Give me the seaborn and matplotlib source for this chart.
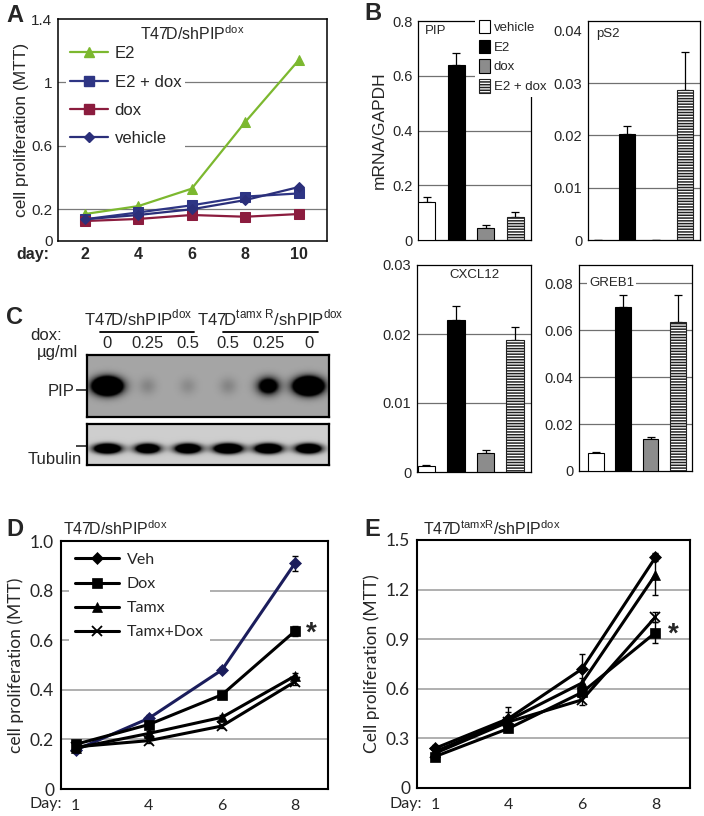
import numpy as np
import pandas as pd
import matplotlib
matplotlib.use("Agg")
import matplotlib.pyplot as plt
import seaborn as sns
from matplotlib.patches import Patch
from matplotlib.lines import Line2D

# ---------------- data ----------------
# Panel A
a_days = ["2", "4", "6", "8", "10"]
a_e2 = [0.17, 0.22, 0.33, 0.75, 1.14]
a_e2dox = [0.137, 0.18, 0.225, 0.28, 0.30]
a_dox = [0.126, 0.139, 0.164, 0.153, 0.17]
a_vehicle = [0.137, 0.164, 0.20, 0.258, 0.34]

# Panel B
b_groups = ["vehicle", "E2", "dox", "E2 + dox"]
b_pip = [0.138, 0.64, 0.043, 0.085]
b_pip_err = [0.018, 0.043, 0.011, 0.016]
b_ps2 = [0.0, 0.0203, 0.0, 0.0287]
b_ps2_err = [0.0, 0.0016, 0.0, 0.0072]
b_cxcl12 = [0.0008, 0.0221, 0.0027, 0.0192]
b_cxcl12_err = [0.00024, 0.0020, 0.0005, 0.0018]
b_greb1 = [0.0075, 0.0699, 0.0135, 0.0633]
b_greb1_err = [0.0007, 0.0050, 0.0011, 0.0116]

# Panel C (western blot band intensities)
c_lanes = ["0", "0.25", "0.5", "0.5", "0.25", "0"]
c_pip = [1.0, 0.05, 0.04, 0.05, 0.45, 1.0]
c_tubulin = [0.95, 0.85, 0.90, 1.0, 0.95, 0.90]

# Panel D
d_days = ["1", "4", "6", "8"]
d_veh = [0.157, 0.285, 0.48, 0.911]
d_veh_err = [0.01, 0.015, 0.01, 0.03]
d_dox = [0.18, 0.26, 0.38, 0.637]
d_dox_err = [0.01, 0.01, 0.012, 0.02]
d_tamx = [0.165, 0.224, 0.289, 0.456]
d_tamx_err = [0.01, 0.01, 0.01, 0.012]
d_tamxdox = [0.17, 0.195, 0.254, 0.433]
d_tamxdox_err = [0.01, 0.01, 0.01, 0.012]

# Panel E
e_days = ["1", "4", "6", "8"]
e_veh = [0.24, 0.42, 0.72, 1.395]
e_veh_err = [0.02, 0.07, 0.09, 0.025]
e_dox = [0.19, 0.36, 0.578, 0.94]
e_dox_err = [0.02, 0.02, 0.02, 0.065]
e_tamx = [0.22, 0.41, 0.635, 1.29]
e_tamx_err = [0.02, 0.05, 0.03, 0.125]
e_tamxdox = [0.21, 0.40, 0.533, 1.034]
e_tamxdox_err = [0.02, 0.03, 0.03, 0.03]

# ---------------- style ----------------
sns.set_style("white")
plt.rcParams["font.family"] = ["Liberation Sans", "DejaVu Sans"]
plt.rcParams["mathtext.fontset"] = "custom"
plt.rcParams["mathtext.rm"] = "Liberation Sans"
plt.rcParams["hatch.linewidth"] = 1.1

W, H = 704, 816
fig = plt.figure(figsize=(W / 100, H / 100), dpi=100)


def rect(l, t, r, b):
    return [l / W, 1 - b / H, (r - l) / W, (b - t) / H]


def fx(x):
    return x / W


def fy(y):
    return 1 - y / H


SUP = lambda s: r"$^{\mathregular{" + s + "}}$"
LATO = ["Lato", "DejaVu Sans"]

# ---------------- Panel A ----------------
axA = fig.add_axes(rect(58, 19, 327, 241))
posA = np.arange(len(a_days))
a_series = [("E2", a_e2, "#7cb82f", "^", 7.5),
            ("E2 + dox", a_e2dox, "#2e3584", "s", 6.5),
            ("dox", a_dox, "#8b1c3e", "s", 6.5),
            ("vehicle", a_vehicle, "#2b2f7a", "D", 5.5)]
for lab, vals, col, mk, ms in a_series:
    sns.lineplot(x=posA, y=vals, ax=axA, color=col, marker=mk, markersize=ms,
                 markeredgecolor=col, linewidth=1.6, zorder=3)
for g in [0.2, 0.6, 1.0]:
    axA.axhline(g, color="#7a7a7a", lw=0.9, zorder=0.5)
axA.set_ylim(0, 1.4)
axA.set_xlim(-0.5, 4.53)
axA.set_yticks([0, 0.2, 0.6, 1.0, 1.4])
axA.set_yticklabels(["0", "0.2", "0.6", "1", "1.4"], fontsize=11)
axA.set_xticks(posA)
axA.set_xticklabels(a_days, fontsize=11.5, fontweight="bold")
axA.tick_params(length=0, pad=4)
axA.set_ylabel("cell proliferation (MTT)", fontsize=12.5, labelpad=2)
for s in axA.spines.values():
    s.set_linewidth(1.1)
    s.set_color("black")
hA = [Line2D([0], [0], color=c, marker=m, markersize=ms, lw=1.6, mec=c)
      for _, _, c, m, ms in a_series]
axA.legend(hA, [s[0] for s in a_series], loc="upper left", bbox_to_anchor=(0.0, 0.93),
           frameon=True, facecolor="white", edgecolor="none", framealpha=1,
           fancybox=False, fontsize=12, handlelength=2.3, labelspacing=0.8,
           borderpad=0.2, handletextpad=0.4)
axA.text(0.5, 0.935, "T47D/shPIP" + SUP("dox"), transform=axA.transAxes,
         ha="center", va="center", fontsize=11.5)
fig.text(fx(16), fy(255), "day:", fontsize=11.5, fontweight="bold", va="center")
fig.text(fx(6), fy(16), "A", fontsize=17, fontweight="bold", va="center")

# ---------------- Panel B ----------------
b_colors = ["white", "black", "#8c8c8c", "white"]
b_pal = dict(zip(b_groups, b_colors))


def bar_panel(rc, vals, errs, ylim, ticks, ticklabels, grids, xlim, title, tpos, tha="left"):
    ax = fig.add_axes(rc)
    df = pd.DataFrame({"group": b_groups, "val": vals})
    sns.barplot(data=df, x="group", y="val", hue="group", palette=b_pal, legend=False,
                order=b_groups, hue_order=b_groups, width=0.58, edgecolor="black",
                linewidth=0.8, errorbar=None, ax=ax, zorder=3)
    pos = np.arange(len(b_groups))
    for cont, v in zip(ax.containers, vals):
        if v == 0:
            for r_ in cont:
                r_.set_visible(False)
    for r_ in ax.containers[3]:
        r_.set_hatch("------")
        r_.set_edgecolor("#222222")
    ax.errorbar(pos, vals, yerr=[np.zeros(len(vals)), errs], fmt="none",
                ecolor="black", elinewidth=0.9, capsize=3, capthick=0.9, zorder=2)
    for g in grids:
        ax.axhline(g, color="#707070", lw=0.9, zorder=0.5)
    ax.set_ylim(*ylim)
    ax.set_xlim(*xlim)
    ax.set_yticks(ticks)
    ax.set_yticklabels(ticklabels, fontsize=10.5)
    ax.set_xticks([])
    ax.set_xlabel("")
    ax.set_ylabel("")
    ax.tick_params(length=0, pad=4)
    for s in ax.spines.values():
        s.set_linewidth(0.9)
        s.set_color("black")
    t = ax.text(tpos[0], tpos[1], title, transform=ax.transAxes, ha=tha, va="center",
                fontsize=9.5, zorder=6)
    return ax, t


axPIP, _ = bar_panel(rect(418, 21, 531, 240), b_pip, b_pip_err, (0, 0.8),
                     [0, 0.2, 0.4, 0.6, 0.8], ["0", "0.2", "0.4", "0.6", "0.8"],
                     [0.2, 0.4, 0.6], (-0.29, 3.54), "PIP", (0.06, 0.955))
axPIP.set_ylabel("mRNA/GAPDH", fontsize=12.5, labelpad=4)
axPS2, _ = bar_panel(rect(588, 21, 700, 240), b_ps2, b_ps2_err, (0, 0.0419),
                     [0, 0.01, 0.02, 0.03, 0.04], ["0", "0.01", "0.02", "0.03", "0.04"],
                     [0.01, 0.02, 0.03], (-0.345, 3.52), "pS2", (0.07, 0.94))
axCX, _ = bar_panel(rect(417, 265, 531, 472), b_cxcl12, b_cxcl12_err, (0, 0.0296),
                    [0, 0.01, 0.02, 0.03], ["0", "0.01", "0.02", "0.03"],
                    [0.01, 0.02], (-0.32, 3.54), "CXCL12", (0.5, 0.95), tha="center")
axGR, tGR = bar_panel(rect(579, 265, 692, 471), b_greb1, b_greb1_err, (0, 0.0877),
                      [0, 0.02, 0.04, 0.06, 0.08], ["0", "0.02", "0.04", "0.06", "0.08"],
                      [0.02, 0.04, 0.06, 0.08], (-0.62, 3.52), "GREB1", (0.09, 0.915))
tGR.set_bbox(dict(facecolor="white", edgecolor="none", pad=1.5))

hB = [Patch(facecolor=c, edgecolor="black", lw=0.8) for c in b_colors]
hB[3] = Patch(facecolor="white", edgecolor="#222222", hatch="------", lw=0.8)
legB = axPIP.legend(hB, b_groups, loc="upper left", bbox_to_anchor=(fx(468), fy(9)),
                    bbox_transform=fig.transFigure, frameon=True, facecolor="white",
                    edgecolor="none", framealpha=1, fancybox=False, fontsize=9.5,
                    handlelength=0.85, handleheight=1.15, labelspacing=0.45,
                    borderpad=0.3, handletextpad=0.3)
legB.set_zorder(10)
fig.text(fx(364), fy(14), "B", fontsize=17, fontweight="bold", va="center")

# ---------------- Panel C (western blot) ----------------
def blot_image(intens, yc, sy, bg, gain, base, slope):
    xs = np.linspace(-0.5, len(intens) - 0.5, 400)
    ys = np.linspace(0, 1, 100)
    X, Y = np.meshgrid(xs, ys)
    img = np.full(X.shape, bg)
    for i, inten in enumerate(intens):
        sx = base + slope * inten
        img += gain * inten * np.exp(-((X - i) / sx) ** 2 - ((Y - yc) / sy) ** 2)
    return np.clip(img, 0, 1)


axC1 = fig.add_axes(rect(87, 355, 329, 417))
axC1.imshow(blot_image(c_pip, 0.5, 0.13, 0.45, 2.2, 0.2, 0.12), cmap="Greys", vmin=0, vmax=1,
            extent=[-0.5, len(c_lanes) - 0.5, 0, 1], origin="lower", aspect="auto",
            interpolation="bilinear")
axC1.xaxis.tick_top()
axC1.set_xticks(np.arange(len(c_lanes)))
axC1.set_xticklabels(c_lanes, fontsize=12)
axC1.set_yticks([0.44])
axC1.set_yticklabels(["PIP"], fontsize=12)
axC1.tick_params(axis="x", length=0, pad=3)
axC1.tick_params(axis="y", length=8, width=1.2, pad=1, left=True)
for s in axC1.spines.values():
    s.set_linewidth(1.6)
    s.set_color("black")

axC2 = fig.add_axes(rect(87, 424, 329, 465))
axC2.imshow(blot_image(c_tubulin, 0.40, 0.11, 0.30, 2.0, 0.10, 0.22), cmap="Greys",
            vmin=0, vmax=1, extent=[-0.5, len(c_lanes) - 0.5, 0, 1], origin="lower",
            aspect="auto", interpolation="bilinear")
axC2.set_xticks([])
axC2.set_yticks([0.46])
axC2.set_yticklabels([""])
axC2.tick_params(axis="y", length=8, width=1.2, left=True)
for s in axC2.spines.values():
    s.set_linewidth(1.6)
    s.set_color("black")
fig.text(fx(55), fy(459), "Tubulin", fontsize=12, ha="center", va="center")

fig.text(fx(138), fy(318), "T47D/shPIP" + SUP("dox"), fontsize=12, ha="center", va="center")
fig.text(fx(270), fy(318), "T47D" + SUP("tamx\\ R") + "/shPIP" + SUP("dox"), fontsize=12,
         ha="center", va="center")
fig.add_artist(Line2D([fx(100), fx(194)], [fy(332), fy(332)], color="black", lw=1.3))
fig.add_artist(Line2D([fx(223), fx(318)], [fy(332), fy(332)], color="black", lw=1.3))
fig.text(fx(46), fy(336), "dox:", fontsize=12, ha="center", va="center")
fig.text(fx(57), fy(352), "\u00b5g/ml", fontsize=12, ha="center", va="center")
fig.text(fx(6), fy(318), "C", fontsize=17, fontweight="bold", va="center")


# ---------------- Panels D & E ----------------
def growth_panel(rc, days, series, ylim, ticks, ticklabels, grids, xlim, ylabel, legend):
    ax = fig.add_axes(rc)
    pos = np.arange(len(days))
    for lab, vals, errs, col, mk, ms in series:
        ax.errorbar(pos, vals, yerr=errs, fmt="none", ecolor="black", elinewidth=1,
                    capsize=2.5, capthick=1, zorder=2)
        sns.lineplot(x=pos, y=vals, ax=ax, color=col, marker=mk, markersize=ms,
                     markeredgecolor=col, markerfacecolor=col,
                     markeredgewidth=1.3 if mk == "x" else 0.5, linewidth=2.2, zorder=3)
    for g in grids:
        ax.axhline(g, color="#9a9a9a", lw=1.1, zorder=0.5)
    ax.set_ylim(*ylim)
    ax.set_xlim(*xlim)
    ax.set_yticks(ticks)
    ax.set_yticklabels(ticklabels, fontsize=12.5, family=LATO)
    ax.set_xticks(pos)
    ax.set_xticklabels(days, fontsize=11.5, family=LATO)
    ax.tick_params(axis="y", length=0, pad=5)
    ax.tick_params(axis="x", length=0, pad=7)
    ax.set_ylabel(ylabel, fontsize=12.5, family=LATO, labelpad=4)
    for s in ax.spines.values():
        s.set_linewidth(1.5)
        s.set_color("black")
    if legend:
        hs = [Line2D([0], [0], color="black", marker=mk, markersize=ms, lw=2.2,
                     mec="black", mfc="black", mew=1.3 if mk == "x" else 0.5)
              for _, _, _, _, mk, ms in series]
        ax.legend(hs, [s[0] for s in series], loc="upper left", bbox_to_anchor=(0.0, 1.01),
                  frameon=True, facecolor="white", edgecolor="none", framealpha=1,
                  fancybox=False, prop={"family": "Lato", "size": 11.5},
                  handlelength=2.7, labelspacing=0.62, borderpad=0.4, handletextpad=0.5)
    return ax


d_series = [("Veh", d_veh, d_veh_err, "#1b1d5c", "D", 6),
            ("Dox", d_dox, d_dox_err, "black", "s", 6.5),
            ("Tamx", d_tamx, d_tamx_err, "black", "^", 6.5),
            ("Tamx+Dox", d_tamxdox, d_tamxdox_err, "black", "x", 7)]
axD = growth_panel(rect(61, 541, 328, 789), d_days, d_series, (0, 1.0),
                   [0, 0.2, 0.4, 0.6, 0.8, 1.0], ["0", "0.2", "0.4", "0.6", "0.8", "1.0"],
                   [0.2, 0.4, 0.6, 0.8], (-0.2, 3.45), "cell proliferation (MTT)", True)
axD.text(3.22, 0.625, "*", fontsize=20, fontweight="bold", ha="center", va="center")
fig.text(fx(63), fy(529), "T47D/shPIP" + SUP("dox"), fontsize=11.5, va="center")
fig.text(fx(62), fy(804), "Day:", fontsize=11.5, ha="right", va="center", family=LATO)
fig.text(fx(6), fy(530), "D", fontsize=17, fontweight="bold", va="center")

e_series = [("Veh", e_veh, e_veh_err, "black", "D", 6),
            ("Dox", e_dox, e_dox_err, "black", "s", 6.5),
            ("Tamx", e_tamx, e_tamx_err, "black", "^", 6.5),
            ("Tamx+Dox", e_tamxdox, e_tamxdox_err, "black", "x", 7)]
axE = growth_panel(rect(417, 540, 690, 788), e_days, e_series, (0, 1.5),
                   [0, 0.3, 0.6, 0.9, 1.2, 1.5], ["0", "0.3", "0.6", "0.9", "1.2", "1.5"],
                   [0.3, 0.6, 0.9, 1.2], (-0.245, 3.47), "Cell proliferation (MTT)", False)
axE.text(3.24, 0.93, "*", fontsize=20, fontweight="bold", ha="center", va="center")
fig.text(fx(423), fy(529), "T47D" + SUP("tamxR") + "/shPIP" + SUP("dox"), fontsize=11.5,
         va="center")
fig.text(fx(422), fy(804), "Day:", fontsize=11.5, ha="right", va="center", family=LATO)
fig.text(fx(364), fy(530), "E", fontsize=17, fontweight="bold", va="center")

fig.savefig("out.png", dpi=100)
